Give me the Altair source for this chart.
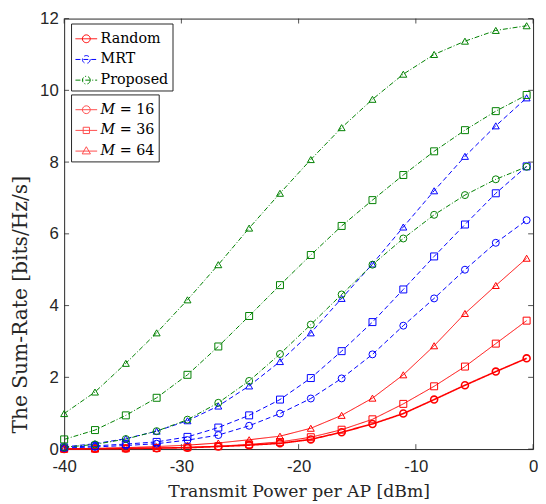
import altair as alt
import pandas as pd

# ---------------- data ----------------
x_dbm = [-40.0, -37.37, -34.74, -32.11, -29.48, -26.85, -24.22, -21.59,
         -18.96, -16.33, -13.70, -11.07, -8.44, -5.81, -3.18, -0.55]

random_16 = [0.0, 0.01, 0.015, 0.025, 0.04, 0.07, 0.11, 0.16, 0.27, 0.47, 0.70, 0.99, 1.38, 1.78, 2.16, 2.53]
random_36 = [0.005, 0.01, 0.02, 0.03, 0.05, 0.08, 0.13, 0.20, 0.33, 0.54, 0.83, 1.26, 1.75, 2.30, 2.94, 3.58]
random_64 = [0.01, 0.02, 0.04, 0.07, 0.11, 0.17, 0.26, 0.36, 0.58, 0.94, 1.42, 2.07, 2.88, 3.78, 4.56, 5.32]
mrt_16 = [0.03, 0.06, 0.10, 0.15, 0.25, 0.39, 0.65, 0.99, 1.41, 1.97, 2.64, 3.44, 4.20, 5.00, 5.75, 6.38]
mrt_36 = [0.05, 0.09, 0.14, 0.20, 0.34, 0.60, 0.94, 1.38, 1.98, 2.73, 3.54, 4.45, 5.37, 6.26, 7.13, 7.88]
mrt_64 = [0.06, 0.15, 0.29, 0.50, 0.79, 1.20, 1.76, 2.44, 3.24, 4.20, 5.16, 6.19, 7.20, 8.16, 9.01, 9.79]
prop_16 = [0.05, 0.13, 0.28, 0.50, 0.82, 1.29, 1.90, 2.65, 3.47, 4.31, 5.14, 5.87, 6.53, 7.08, 7.52, 7.87]
prop_36 = [0.27, 0.53, 0.94, 1.43, 2.07, 2.86, 3.71, 4.57, 5.41, 6.22, 6.94, 7.64, 8.30, 8.89, 9.42, 9.87]
prop_64 = [0.99, 1.59, 2.39, 3.24, 4.16, 5.14, 6.16, 7.13, 8.07, 8.96, 9.75, 10.45, 11.00, 11.37, 11.67, 11.80]

methods = ["Random", "MRT", "Proposed"]
antennas = ["16", "36", "64"]
x_ticks = [-40, -30, -20, -10, 0]
y_ticks = [0, 2, 4, 6, 8, 10, 12]

series = {
    ("Random", "16"): random_16, ("Random", "36"): random_36, ("Random", "64"): random_64,
    ("MRT", "16"): mrt_16, ("MRT", "36"): mrt_36, ("MRT", "64"): mrt_64,
    ("Proposed", "16"): prop_16, ("Proposed", "36"): prop_36, ("Proposed", "64"): prop_64,
}

rows = []
for (m, a), vals in series.items():
    lw = 1.6 if (m == "Random" and a == "16") else 1.0
    for xv, yv in zip(x_dbm, vals):
        rows.append({"method": m, "M": a, "series": m + a, "x": xv, "y": yv, "lw": lw})
df = pd.DataFrame(rows)
df_xt = pd.DataFrame({"x": x_ticks})
df_yt = pd.DataFrame({"y": y_ticks})

# ---------------- styling ----------------
W, H = 476, 437
INK = "#262626"
colors = ["#ff0000", "#0000ff", "#008000"]
dashes = [[1, 0], [5, 3], [5, 2, 1, 2]]

LINE_CIRCLE = "M-1,0L1,0M0.36,0A0.36,0.36,0,1,1,-0.36,0A0.36,0.36,0,1,1,0.36,0"
LINE_SQUARE = "M-1,0L1,0M-0.29,-0.29L0.29,-0.29L0.29,0.29L-0.29,0.29Z"
LINE_TRI = "M-1,0L1,0M0,-0.4L0.38,0.26L-0.38,0.26Z"

xs = alt.Scale(domain=[-40, 0], nice=False, zero=False)
ys = alt.Scale(domain=[0, 12], nice=False, zero=False)

xaxis = alt.Axis(values=x_ticks, title="Transmit Power per AP [dBm]",
                 labelExpr="'' + datum.value", labelPadding=10, labelFlush=False,
                 titleFontSize=17.5, titleX=W / 2, titleY=48, titleAlign="center",
                 titleBaseline="alphabetic")
yaxis = alt.Axis(values=y_ticks, title="The Sum-Rate [bits/Hz/s]",
                 labelPadding=6, labelFlush=False, titleFontSize=20.5,
                 titleX=-38, titleY=290, titleAlign="center",
                 titleBaseline="alphabetic", titleAngle=270)

X = alt.X("x:Q", scale=xs, axis=xaxis)
Y = alt.Y("y:Q", scale=ys, axis=yaxis)

legend_common = dict(title=None, orient="none", symbolSize=484, symbolStrokeWidth=1,
                     symbolFillColor="transparent",
                     labelFont="DejaVu Serif", labelFontSize=14.5, labelColor="black",
                     fillColor="white", strokeColor=INK, padding=4, rowPadding=3,
                     labelOffset=3)
leg_method = alt.Legend(symbolType=LINE_CIRCLE, legendX=7, legendY=5, **legend_common)
leg_m = alt.Legend(symbolStrokeColor="#ff0000", labelExpr="'𝑀 = ' + datum.label",
                   legendX=7, legendY=77, **legend_common)

color = alt.Color("method:N", scale=alt.Scale(domain=methods, range=colors), legend=leg_method)
dash = alt.StrokeDash("method:N", scale=alt.Scale(domain=methods, range=dashes), legend=leg_method)
sw = alt.StrokeWidth("lw:Q", scale=None, legend=None)

base = alt.Chart(df)

lines = base.mark_line().encode(x=X, y=Y, color=color, strokeDash=dash,
                                detail="series:N", strokeWidth=sw)
points = base.mark_point(filled=False, size=50, opacity=1).encode(
    x=X, y=Y, color=color, strokeWidth=sw,
    shape=alt.Shape("M:N", scale=alt.Scale(domain=antennas, range=["circle", "square", "triangle-up"]),
                    legend=None))
legend_m_layer = base.mark_point(filled=False, size=0, color="#ff0000", strokeWidth=1).encode(
    x=X, y=Y,
    shape=alt.Shape("M:N", scale=alt.Scale(domain=antennas, range=[LINE_CIRCLE, LINE_SQUARE, LINE_TRI]),
                    legend=leg_m))

tick_style = dict(color=INK, strokeWidth=0.8)
t_bottom = alt.Chart(df_xt).mark_rule(**tick_style).encode(x=X, y=alt.value(H), y2=alt.value(H - 5))
t_top = alt.Chart(df_xt).mark_rule(**tick_style).encode(x=X, y=alt.value(0), y2=alt.value(5))
t_left = alt.Chart(df_yt).mark_rule(**tick_style).encode(y=Y, x=alt.value(0), x2=alt.value(5))
t_right = alt.Chart(df_yt).mark_rule(**tick_style).encode(y=Y, x=alt.value(W - 5), x2=alt.value(W))

chart = alt.layer(t_bottom, t_top, t_left, t_right, lines, points, legend_m_layer).resolve_scale(
    shape="independent"
).properties(
    width=W, height=H,
    autosize=alt.AutoSizeParams(type="none"),
    padding={"left": 57, "top": 7, "right": 5, "bottom": 52},
).configure_view(
    stroke=INK, strokeWidth=1
).configure_axis(
    grid=False, domain=False, ticks=False,
    labelFont="Liberation Sans", labelFontSize=17, labelColor=INK,
    titleFont="DejaVu Serif", titleFontWeight="normal", titleColor=INK,
)

chart.save("out.html", embed_options={"renderer": "svg", "actions": False})
